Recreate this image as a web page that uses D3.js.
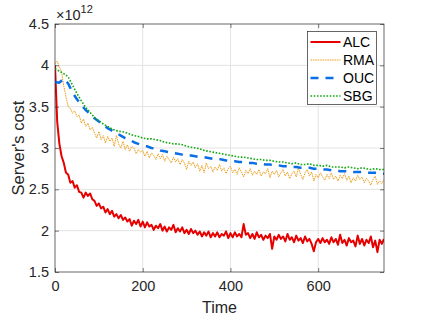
<!DOCTYPE html>
<html>
<head>
<meta charset="utf-8">
<script src="https://cdn.jsdelivr.net/npm/d3@7"></script>
<style>
  body { margin: 0; background: #fff; }
  svg { display: block; font-family: "Liberation Sans", Arial, sans-serif; }
  .tick text { fill: #262626; font-size: 14.5px; }
</style>
</head>
<body>
<div id="chart"></div>
<script>
// x categories: time slots sampled every 5 (noisy series) or 10 (smooth series)
const time5 = d3.range(0, 751, 5);
const time10 = d3.range(0, 751, 10);

// Server's cost, in units of 1e12
const alcCost = [
  4.00, 3.32, 3.05, 2.90, 2.82, 2.70, 2.68, 2.58, 2.60, 2.52, 2.55, 2.47, 2.46, 2.40, 2.46, 2.42,
  2.45, 2.38, 2.36, 2.30, 2.33, 2.27, 2.29, 2.22, 2.26, 2.20, 2.24, 2.17, 2.20, 2.15, 2.19, 2.13,
  2.16, 2.11, 2.14, 2.06, 2.12, 2.08, 2.13, 2.05, 2.11, 2.04, 2.10, 2.05, 2.07, 2.01, 2.06, 2.03,
  2.08, 2.00, 2.05, 1.99, 2.04, 2.01, 2.07, 1.98, 2.03, 1.99, 2.04, 1.97, 2.01, 1.96, 2.02, 1.97,
  2.00, 1.95, 1.99, 1.93, 1.98, 1.94, 1.99, 1.92, 1.97, 1.93, 1.98, 1.92, 1.96, 1.94, 1.99, 1.91,
  1.97, 1.92, 1.98, 1.93, 1.96, 1.92, 2.08, 1.95, 1.97, 1.91, 1.96, 1.90, 1.98, 1.92, 1.95, 1.89,
  1.94, 1.91, 1.96, 1.78, 1.93, 1.89, 1.95, 1.90, 1.93, 1.87, 1.96, 1.89, 1.92, 1.86, 1.94, 1.88,
  1.91, 1.85, 1.93, 1.87, 1.90, 1.84, 1.75, 1.86, 1.90, 1.85, 1.91, 1.86, 1.89, 1.84, 1.92, 1.86,
  1.90, 1.83, 1.95, 1.85, 1.89, 1.82, 1.91, 1.86, 1.88, 1.81, 1.94, 1.84, 1.90, 1.82, 1.89, 1.85,
  1.93, 1.80, 1.88, 1.74, 1.89, 1.84, 1.90
];

const rmaCost = [
  4.02, 4.05, 3.98, 3.92, 3.75, 3.62, 3.50, 3.48, 3.42, 3.45, 3.38, 3.40, 3.30, 3.35, 3.26, 3.30,
  3.22, 3.25, 3.18, 3.12, 3.20, 3.10, 3.15, 3.06, 3.14, 3.08, 3.12, 3.02, 3.15, 3.05, 3.00, 3.08,
  2.98, 3.04, 2.96, 3.02, 3.00, 2.93, 2.98, 2.95, 2.97, 2.90, 2.96, 2.88, 2.94, 2.91, 2.86, 2.93,
  2.87, 2.92, 2.84, 2.90, 2.86, 2.82, 2.89, 2.83, 2.87, 2.80, 2.86, 2.82, 2.74, 2.84, 2.79, 2.83,
  2.76, 2.81, 2.72, 2.79, 2.70, 2.82, 2.75, 2.78, 2.71, 2.77, 2.73, 2.80, 2.72, 2.76, 2.69, 2.75,
  2.78, 2.70, 2.74, 2.68, 2.76, 2.71, 2.65, 2.73, 2.69, 2.75, 2.67, 2.72, 2.68, 2.74, 2.66, 2.71,
  2.69, 2.75, 2.64, 2.72, 2.68, 2.73, 2.65, 2.70, 2.74, 2.66, 2.71, 2.63, 2.69, 2.72, 2.65, 2.76,
  2.68, 2.62, 2.70, 2.74, 2.66, 2.71, 2.60, 2.68, 2.64, 2.70, 2.65, 2.61, 2.68, 2.63, 2.70, 2.62,
  2.66, 2.60, 2.67, 2.63, 2.69, 2.61, 2.66, 2.58, 2.64, 2.60, 2.67, 2.62, 2.65, 2.58, 2.63, 2.60,
  2.55, 2.62, 2.66, 2.56, 2.60, 2.57, 2.62
];

const oucCost = [
  3.80, 3.79, 3.84, 3.78, 3.67, 3.59, 3.52, 3.46, 3.41, 3.36, 3.32, 3.28, 3.24, 3.21, 3.18, 3.15,
  3.12, 3.10, 3.07, 3.05, 3.03, 3.02, 3.00, 2.99, 2.97, 2.96, 2.95, 2.94, 2.93, 2.92, 2.91, 2.91,
  2.90, 2.89, 2.89, 2.88, 2.87, 2.87, 2.86, 2.85, 2.84, 2.84, 2.83, 2.83, 2.82, 2.82, 2.81, 2.81,
  2.80, 2.80, 2.79, 2.79, 2.78, 2.78, 2.77, 2.77, 2.76, 2.76, 2.76, 2.75, 2.75, 2.74, 2.74, 2.73,
  2.73, 2.72, 2.72, 2.72, 2.71, 2.71, 2.71, 2.70, 2.70, 2.70, 2.69, 2.69
];

const sbgCost = [
  3.96, 3.93, 3.90, 3.86, 3.76, 3.66, 3.57, 3.49, 3.43, 3.37, 3.33, 3.29, 3.26, 3.23, 3.21, 3.20,
  3.19, 3.17, 3.15, 3.14, 3.12, 3.11, 3.11, 3.10, 3.09, 3.07, 3.06, 3.05, 3.05, 3.04, 3.02, 3.01,
  3.00, 2.99, 2.97, 2.96, 2.95, 2.94, 2.93, 2.92, 2.91, 2.90, 2.89, 2.89, 2.88, 2.87, 2.86, 2.86,
  2.85, 2.85, 2.84, 2.83, 2.83, 2.82, 2.81, 2.82, 2.80, 2.80, 2.81, 2.79, 2.79, 2.78, 2.79, 2.77,
  2.77, 2.77, 2.76, 2.77, 2.76, 2.75, 2.76, 2.75, 2.74, 2.75, 2.74, 2.74
];

const xTicks = [0, 200, 400, 600];
const yTicks = [1.5, 2, 2.5, 3, 3.5, 4, 4.5];
const seriesNames = ['ALC', 'RMA', 'OUC', 'SBG'];

const series = [
  { name: 'ALC', time: time5, cost: alcCost, color: '#e60000', width: 2, dash: null },
  { name: 'RMA', time: time5, cost: rmaCost, color: '#eda020', width: 1, dash: '1.6,0.8' },
  { name: 'OUC', time: time10, cost: oucCost, color: '#0a6ee6', width: 2.5, dash: '8,7' },
  { name: 'SBG', time: time10, cost: sbgCost, color: '#12a812', width: 1.6, dash: '1.6,1.6' }
];

const margin = { top: 24, right: 41, bottom: 47, left: 55 };
const W = 425, H = 319;
const width = W - margin.left - margin.right;
const height = H - margin.top - margin.bottom;

const svg = d3.select('#chart').append('svg')
  .attr('width', W)
  .attr('height', H);

svg.append('defs').append('clipPath')
  .attr('id', 'plot-clip')
  .append('rect')
  .attr('width', width)
  .attr('height', height);

const chart = svg.append('g')
  .attr('transform', `translate(${margin.left},${margin.top})`);

const x = d3.scaleLinear().domain([0, 750]).range([0, width]);
const y = d3.scaleLinear().domain([1.5, 4.5]).range([height, 0]);

// grid
chart.append('g')
  .selectAll('line')
  .data(xTicks.slice(1))
  .enter().append('line')
  .attr('x1', d => x(d)).attr('x2', d => x(d))
  .attr('y1', 0).attr('y2', height)
  .attr('stroke', '#e3e3e3');

chart.append('g')
  .selectAll('line')
  .data(yTicks.slice(1, -1))
  .enter().append('line')
  .attr('x1', 0).attr('x2', width)
  .attr('y1', d => y(d)).attr('y2', d => y(d))
  .attr('stroke', '#e3e3e3');

// lines
const plot = chart.append('g').attr('clip-path', 'url(#plot-clip)');

series.forEach(s => {
  const line = d3.line()
    .x((d, i) => x(s.time[i]))
    .y(d => y(d));
  plot.append('path')
    .datum(s.cost)
    .attr('fill', 'none')
    .attr('stroke', s.color)
    .attr('stroke-width', s.width)
    .attr('stroke-dasharray', s.dash)
    .attr('stroke-linejoin', 'round')
    .attr('d', line);
});

// axes (ticks inside, on all four sides)
const axisColor = '#262626';
const xAxis = d3.axisBottom(x).tickValues(xTicks).tickSize(-4).tickPadding(9).tickFormat(d3.format('d'));
const yAxis = d3.axisLeft(y).tickValues(yTicks).tickSize(-4).tickPadding(6).tickFormat(d => d);

chart.append('g')
  .attr('transform', `translate(0,${height})`)
  .call(xAxis);

chart.append('g').call(yAxis);

chart.append('g')
  .call(d3.axisTop(x).tickValues(xTicks).tickSize(-4).tickFormat(''));

chart.append('g')
  .attr('transform', `translate(${width},0)`)
  .call(d3.axisRight(y).tickValues(yTicks).tickSize(-4).tickFormat(''));

chart.selectAll('.domain').remove();
chart.selectAll('.tick line').attr('stroke', axisColor).attr('stroke-width', 0.6);

chart.append('rect')
  .attr('width', width)
  .attr('height', height)
  .attr('fill', 'none')
  .attr('stroke', axisColor)
  .attr('stroke-width', 0.7);

// exponent label
const expo = svg.append('text')
  .attr('x', margin.left + 1)
  .attr('y', 20)
  .attr('fill', axisColor)
  .attr('font-size', 14.5);
expo.append('tspan').text('×10');
expo.append('tspan').attr('font-size', 11).attr('dy', -7).text('12');

// axis labels
svg.append('text')
  .attr('x', margin.left + width / 2)
  .attr('y', 313)
  .attr('text-anchor', 'middle')
  .attr('fill', axisColor)
  .attr('font-size', 16)
  .text('Time');

svg.append('text')
  .attr('transform', `translate(23.5,${margin.top + height / 2}) rotate(-90)`)
  .attr('text-anchor', 'middle')
  .attr('fill', axisColor)
  .attr('font-size', 16.5)
  .text("Server's cost");

// legend
const legend = svg.append('g').attr('transform', 'translate(307.5,31.5)');
legend.append('rect')
  .attr('width', 69)
  .attr('height', 73)
  .attr('fill', '#fff')
  .attr('stroke', axisColor)
  .attr('stroke-width', 0.7);

seriesNames.forEach((name, i) => {
  const s = series.find(d => d.name === name);
  const ly = 10.5 + i * 18;
  legend.append('line')
    .attr('x1', 3).attr('x2', 33)
    .attr('y1', ly).attr('y2', ly)
    .attr('stroke', s.color)
    .attr('stroke-width', s.width)
    .attr('stroke-dasharray', s.dash);
  legend.append('text')
    .attr('x', 35.5)
    .attr('y', ly + 5)
    .attr('fill', '#000')
    .attr('font-size', 14)
    .text(name);
});
</script>
</body>
</html>
